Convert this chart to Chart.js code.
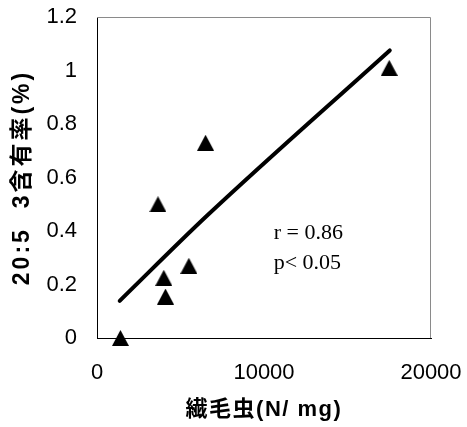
<!DOCTYPE html>
<html>
<head>
<meta charset="utf-8">
<script src="https://cdn.jsdelivr.net/npm/chart.js@4/dist/chart.umd.min.js"></script>
<style>
  html, body { margin: 0; padding: 0; background: #fff; }
  canvas { display: block; }
</style>
</head>
<body>
<canvas id="c" width="467" height="427"></canvas>
<script>
// ---- data ----
const ciliates   = [1400, 3650, 4000, 4100, 5500, 6500, 17500];      // 繊毛虫 (N/mg)
const epaContent = [0, 0.50, 0.225, 0.155, 0.27, 0.73, 1.01];        // 20:5 3含有率 (%)
const trendX = [1360, 6550, 17530];
const trendY = [0.139, 0.455, 1.075];
const xTicks = [0, 10000, 20000];
const yTicks = [0, 0.2, 0.4, 0.6, 0.8, 1, 1.2];
const xTitle = '繊毛虫(N/ mg)';
const yTitle = '20:5  3含有率(%)';
const statLines = ['r = 0.86', 'p< 0.05'];
const statPos = { x: 10580, y: [0.371, 0.259] };

function triangleImage(w, h, color) {
  const c = document.createElement('canvas');
  c.width = w; c.height = h;
  const g = c.getContext('2d');
  g.fillStyle = color;
  g.beginPath();
  g.moveTo(w / 2, 0);
  g.lineTo(w, h);
  g.lineTo(0, h);
  g.closePath();
  g.fill();
  return c;
}

const titleSpacing = {
  id: 'titleSpacing',
  beforeDraw(chart) {
    const cfg = { x: '1.5px', y: '3px' };
    for (const id of Object.keys(cfg)) {
      const s = chart.scales[id];
      if (!s || s._lsWrapped) continue;
      const orig = s.drawTitle;
      s.drawTitle = function () {
        const ctx = this.ctx;
        const prev = ctx.letterSpacing;
        ctx.letterSpacing = cfg[id];
        orig.call(this);
        ctx.letterSpacing = prev || '0px';
      };
      s._lsWrapped = true;
    }
  }
};

const frame = {
  id: 'frame',
  beforeDatasetsDraw(chart) {
    const { ctx, chartArea: a } = chart;
    ctx.save();
    ctx.strokeStyle = '#8a8a8a';
    ctx.lineWidth = 1;
    const t = Math.round(a.top) + 0.5, r = Math.round(a.right) - 0.5;
    ctx.beginPath();
    ctx.moveTo(a.left, t);
    ctx.lineTo(r, t);
    ctx.lineTo(r, a.bottom);
    ctx.stroke();
    ctx.restore();
  }
};

const stats = {
  id: 'stats',
  afterDatasetsDraw(chart) {
    const { ctx, scales } = chart;
    ctx.save();
    ctx.font = '22px "Liberation Serif", "Times New Roman", serif';
    ctx.fillStyle = '#000';
    ctx.textAlign = 'left';
    ctx.textBaseline = 'alphabetic';
    const x = scales.x.getPixelForValue(statPos.x);
    statLines.forEach((t, i) => {
      ctx.fillText(t, x, scales.y.getPixelForValue(statPos.y[i]));
    });
    ctx.restore();
  }
};

function noEdgePadding(s) {
  s.paddingTop = 0; s.paddingBottom = 0; s.paddingLeft = 0; s.paddingRight = 0;
}

const tickFont = { family: '"Liberation Sans", Arial, sans-serif', size: 22 };
const titleFontFamily = '"Liberation Sans", Arial, "Noto Sans CJK JP", sans-serif';

new Chart(document.getElementById('c'), {
  type: 'scatter',
  data: {
    datasets: [
      {
        label: 'trend',
        data: trendX.map((x, i) => ({ x, y: trendY[i] })),
        showLine: true,
        borderColor: '#000',
        borderWidth: 4,
        borderCapStyle: 'round',
        pointRadius: 0,
        cubicInterpolationMode: 'monotone',
        clip: false
      },
      {
        label: 'data',
        data: ciliates.map((x, i) => ({ x, y: epaContent[i] })),
        pointStyle: triangleImage(17, 16, '#000'),
        pointRadius: 8,
        showLine: false,
        clip: false
      }
    ]
  },
  options: {
    responsive: false,
    animation: false,
    devicePixelRatio: 1,
    layout: { padding: { top: 17, right: 36, bottom: 0, left: 0 } },
    plugins: { legend: { display: false }, tooltip: { enabled: false } },
    scales: {
      x: {
        type: 'linear',
        min: 0, max: 20000,
        afterBuildTicks: s => { s.ticks = xTicks.map(v => ({ value: v })); },
        afterFit: s => { s.height = 89; noEdgePadding(s); },
        grid: { display: false, drawTicks: false },
        border: { display: true, color: '#000', width: 1 },
        ticks: { color: '#000', font: tickFont, padding: 22, maxRotation: 0, callback: v => String(v) },
        title: {
          display: true, text: xTitle, color: '#000',
          font: { family: titleFontFamily, size: 22, weight: 'bold' },
          padding: { top: 0, bottom: 4 }
        }
      },
      y: {
        type: 'linear',
        min: 0, max: 1.2,
        afterBuildTicks: s => { s.ticks = yTicks.map(v => ({ value: v })); },
        afterFit: s => { s.width = 97; noEdgePadding(s); },
        grid: { display: false, drawTicks: false },
        border: { display: true, color: '#000', width: 1 },
        ticks: { color: '#000', font: tickFont, padding: 20, callback: v => String(v) },
        title: {
          display: true, text: yTitle, color: '#000',
          font: { family: titleFontFamily, size: 23, weight: 'bold' },
          padding: { top: 9, bottom: 0 }
        }
      }
    }
  },
  plugins: [titleSpacing, frame, stats]
});
</script>
</body>
</html>
